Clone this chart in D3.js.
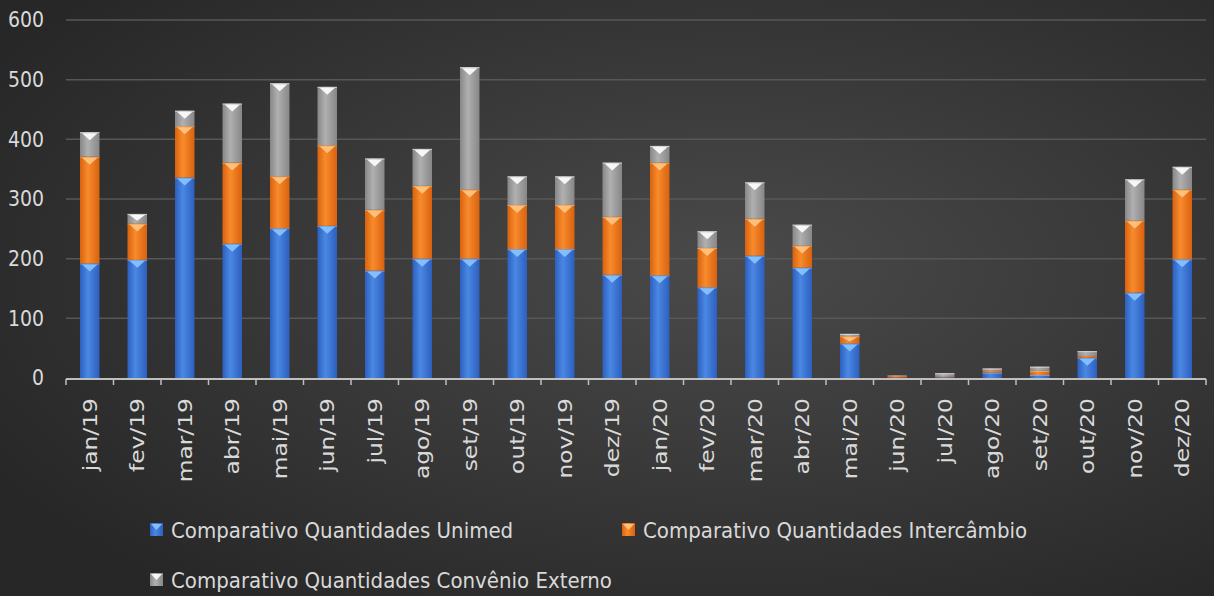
<!DOCTYPE html>
<html lang="pt">
<head>
<meta charset="UTF-8">
<title>Comparativo Quantidades</title>
<script src="https://cdn.jsdelivr.net/npm/d3@7"></script>
<style>
  body, html { margin: 0; padding: 0; background: #2c2c2c; }
  svg { display: block; }
  .tick-y { font-family: "Liberation Sans Narrow", "DejaVu Sans Condensed", sans-serif; font-size: 21px; fill: #d9d9d9; }
  .tick-x { font-family: "DejaVu Sans Condensed", "Liberation Sans Narrow", sans-serif; font-size: 20px; fill: #d9d9d9; }
  .legend { font-family: "DejaVu Sans Condensed", "Liberation Sans Narrow", sans-serif; font-size: 22px; fill: #d9d9d9; }
</style>
</head>
<body>
<svg id="chart" width="1214" height="596"></svg>
<script>
const months = ["jan/19","fev/19","mar/19","abr/19","mai/19","jun/19","jul/19","ago/19","set/19","out/19","nov/19","dez/19",
                "jan/20","fev/20","mar/20","abr/20","mai/20","jun/20","jul/20","ago/20","set/20","out/20","nov/20","dez/20"];
const unimed      = [192,198,336,225,251,255,180,200,200,216,216,173,172,152,205,185,58,1,1,9,5,34,143,199];
const intercambio = [179, 61, 86,136, 87,135,102,122,116, 74, 74, 97,189, 66, 62, 37,12,3,1,3,7, 3,121,117];
const convenio    = [ 41, 16, 26, 99,156, 98, 86, 62,205, 48, 48, 91, 28, 28, 61, 35, 4,1,6,4,7, 8, 69, 38];
const seriesNames = ["Comparativo Quantidades Unimed", "Comparativo Quantidades Intercâmbio", "Comparativo Quantidades Convênio Externo"];
const yTicks = [0,100,200,300,400,500,600];

const W = 1214, H = 596;
const margin = {left: 66, right: 8, top: 20, bottom: 218};
const svg = d3.select("#chart");
const defs = svg.append("defs");

// background
const bg = defs.append("radialGradient").attr("id","bg")
  .attr("cx","0.6").attr("cy","0.45").attr("r","0.7");
bg.append("stop").attr("offset","0%").attr("stop-color","#4a4a4a");
bg.append("stop").attr("offset","100%").attr("stop-color","#272727");
svg.append("rect").attr("width",W).attr("height",H).attr("fill","url(#bg)");

const palette = [
  {edge:"#2d5fbf", mid:"#4a88e4", tri:"#8cc4ff"},
  {edge:"#d9620f", mid:"#f88b2c", tri:"#ffc784"},
  {edge:"#878787", mid:"#b0b0b0", tri:"#ffffff"}
];
palette.forEach((p,i) => {
  const g = defs.append("linearGradient").attr("id","g"+i).attr("x1","0").attr("x2","1").attr("y1","0").attr("y2","0");
  g.append("stop").attr("offset","0%").attr("stop-color",p.edge);
  g.append("stop").attr("offset","40%").attr("stop-color",p.mid);
  g.append("stop").attr("offset","100%").attr("stop-color",p.edge);
});

const x = d3.scaleBand().domain(months).range([margin.left, W - margin.right]).paddingInner(0.59).paddingOuter(0.295);
const y = d3.scaleLinear().domain([0,600]).range([H - margin.bottom, margin.top]);

// gridlines
svg.append("g").selectAll("line").data(yTicks.filter(d => d > 0)).join("line")
  .attr("x1", margin.left).attr("x2", W - margin.right)
  .attr("y1", d => y(d)).attr("y2", d => y(d))
  .attr("stroke","#575757").attr("stroke-width",1.5);

// y labels
svg.append("g").selectAll("text").data(yTicks).join("text")
  .attr("class","tick-y")
  .attr("x", 44).attr("y", d => y(d)).attr("dy","0.35em")
  .attr("text-anchor","end").text(d => d);

// stacked data
const rows = months.map((m,i) => ({month:m, u:unimed[i], i:intercambio[i], c:convenio[i]}));
const stack = d3.stack().keys(["u","i","c"])(rows);

const bw = x.bandwidth();
stack.forEach((layer, li) => {
  const g = svg.append("g");
  g.selectAll("rect").data(layer).join("rect")
    .attr("x", d => x(d.data.month))
    .attr("width", bw)
    .attr("y", d => y(d[1]))
    .attr("height", d => y(d[0]) - y(d[1]))
    .attr("fill", "url(#g"+li+")");
  // thin highlight at top of segment
  g.selectAll("line").data(layer.filter(d => y(d[0]) - y(d[1]) > 2)).join("line")
    .attr("x1", d => x(d.data.month)).attr("x2", d => x(d.data.month) + bw)
    .attr("y1", d => y(d[1]) + 0.5).attr("y2", d => y(d[1]) + 0.5)
    .attr("stroke", palette[li].tri).attr("stroke-opacity",0.6).attr("stroke-width",1);
  // bevel triangle at top of segment
  g.selectAll("path").data(layer.filter(d => y(d[0]) - y(d[1]) > 6)).join("path")
    .attr("d", d => {
      const x0 = x(d.data.month), yt = y(d[1]);
      const th = Math.min(7, (y(d[0]) - yt) * 0.6);
      return `M${x0+2},${yt+1}L${x0+bw-2},${yt+1}L${x0+bw/2},${yt+1+th}Z`;
    })
    .attr("fill", palette[li].tri).attr("opacity", 0.9);
});

// x axis line and ticks
const y0 = y(0);
svg.append("line").attr("x1", margin.left).attr("x2", W - margin.right)
  .attr("y1", y0 + 1).attr("y2", y0 + 1).attr("stroke","#bfbfbf").attr("stroke-width",2);
const step = x.step();
const tickPos = d3.range(months.length + 1).map(i => margin.left + i * step);
svg.append("g").selectAll("line").data(tickPos).join("line")
  .attr("x1", d => d).attr("x2", d => d)
  .attr("y1", y0 + 1).attr("y2", y0 + 7)
  .attr("stroke","#bfbfbf").attr("stroke-width",1.5);

// x labels rotated (stretched along their length like the original)
svg.append("g").selectAll("text").data(months).join("text")
  .attr("class","tick-x")
  .attr("transform", d => `translate(${x(d) + bw/2 + 7},${y0 + 20}) rotate(-90) scale(1.3,1)`)
  .attr("text-anchor","end")
  .text(d => d);

// legend
const legendPos = [{x:150, y:530}, {x:622, y:530}, {x:150, y:580}];
seriesNames.forEach((name, i) => {
  const lp = legendPos[i];
  const g = svg.append("g").attr("transform", `translate(${lp.x},${lp.y})`);
  g.append("rect").attr("x",0).attr("y",-7).attr("width",13).attr("height",13).attr("fill","url(#g"+i+")");
  g.append("path").attr("d","M1,-6L12,-6L6.5,0Z").attr("fill", palette[i].tri).attr("opacity",0.9);
  g.append("text").attr("class","legend").attr("x",21).attr("y",0).attr("dy","0.35em").text(name);
});
</script>
</body>
</html>
